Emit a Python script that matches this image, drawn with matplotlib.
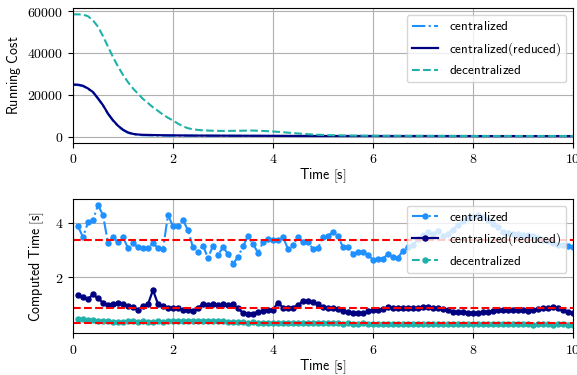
import matplotlib
matplotlib.use('Agg')
import matplotlib.pyplot as plt
from matplotlib.ticker import FuncFormatter

plt.rcParams['mathtext.fontset'] = 'cm'

# running cost (top panel), values in units of 1
t_cost = [0.0, 0.1, 0.2, 0.3, 0.4, 0.5, 0.6, 0.7, 0.8, 0.9, 1.0, 1.1, 1.2, 1.3, 1.4,
          1.5, 1.6, 1.7, 1.8, 1.9, 2.0, 2.1, 2.2, 2.3, 2.4, 2.5, 2.6, 2.8, 3.0, 3.3,
          3.6, 3.9, 4.2, 4.5, 4.8, 5.1, 5.5, 6.0, 7.0, 8.0, 9.0, 10.0]
cost_dec = [58400, 58400, 58300, 57500, 55500, 52500, 48000, 43000, 38000, 33500, 29500,
            26000, 23000, 20500, 18000, 16000, 14000, 12300, 10500, 9000, 7700, 6200,
            4900, 4000, 3500, 3200, 3000, 2800, 2700, 2800, 2900, 2600, 2100, 1500,
            1000, 700, 500, 400, 350, 300, 300, 300]
cost_red = [24900, 24800, 24300, 23000, 21300, 18300, 15000, 11000, 7800, 5200, 3300,
            2000, 1300, 1000, 850, 800, 750, 700, 650, 620, 600, 580, 560, 540, 520,
            500, 490, 470, 450, 420, 400, 380, 350, 330, 320, 300, 300, 300, 280, 260,
            250, 250]
cost_cen = [24700, 24600, 24100, 22800, 21100, 18100, 14800, 10800, 7600, 5000, 3100,
            1800, 1100, 800, 650, 600, 550, 500, 480, 460, 450, 440, 430, 420, 410,
            400, 390, 380, 370, 350, 340, 320, 300, 290, 280, 270, 260, 250, 240, 230,
            220, 220]

# computed time per step (bottom panel)
t_step = [round(0.1 * k, 1) for k in range(1, 101)]
ct_cen = [3.87, 3.47, 4.01, 4.10, 4.64, 4.28, 3.26, 3.47, 3.28, 3.47,
          3.07, 3.25, 3.10, 3.07, 3.07, 3.25, 3.07, 3.04, 4.28, 3.87,
          3.87, 4.10, 3.72, 3.10, 2.92, 3.16, 2.70, 3.16, 2.82, 3.10,
          2.86, 2.50, 2.74, 3.14, 3.50, 3.22, 2.90, 3.28, 3.41, 3.37,
          3.35, 3.47, 3.04, 3.19, 3.47, 3.28, 3.28, 3.04, 3.07, 3.47,
          3.53, 3.65, 3.50, 3.10, 3.10, 2.86, 2.92, 2.94, 2.82, 2.65,
          2.68, 2.68, 2.86, 2.74, 2.72, 2.98, 3.10, 3.19, 3.40, 3.55,
          3.65, 3.60, 3.68, 3.50, 3.60, 3.75, 3.93, 4.05, 4.17, 4.22,
          4.29, 4.20, 4.11, 3.95, 3.84, 3.67, 3.62, 3.60, 3.58, 3.55,
          3.56, 3.50, 3.45, 3.38, 3.32, 3.25, 3.20, 3.18, 3.13, 3.12]
ct_red = [1.35, 1.28, 1.19, 1.38, 1.23, 1.07, 0.98, 1.02, 1.07, 1.02,
          0.95, 0.92, 0.80, 0.95, 1.02, 1.53, 1.02, 0.95, 0.89, 0.86,
          0.86, 0.82, 0.82, 0.77, 0.86, 1.04, 0.98, 1.02, 0.98, 1.02,
          0.98, 1.02, 0.86, 0.70, 0.67, 0.67, 0.74, 0.77, 0.80, 0.82,
          1.07, 0.89, 0.86, 0.89, 0.98, 1.13, 1.13, 1.10, 1.02, 0.90,
          0.86, 0.86, 0.84, 0.78, 0.72, 0.70, 0.70, 0.70, 0.75, 0.79,
          0.81, 0.84, 0.90, 0.88, 0.86, 0.86, 0.86, 0.86, 0.88, 0.93,
          0.92, 0.89, 0.86, 0.84, 0.79, 0.74, 0.73, 0.73, 0.71, 0.68,
          0.69, 0.72, 0.73, 0.76, 0.79, 0.81, 0.82, 0.80, 0.82, 0.79,
          0.77, 0.80, 0.85, 0.86, 0.86, 0.90, 0.86, 0.79, 0.72, 0.70]
ct_dec = [0.47, 0.48, 0.44, 0.45, 0.41, 0.40, 0.41, 0.38, 0.37, 0.38,
          0.40, 0.39, 0.38, 0.39, 0.38, 0.37, 0.39, 0.38, 0.39, 0.40,
          0.39, 0.40, 0.41, 0.40, 0.41, 0.40, 0.40, 0.39, 0.40, 0.39,
          0.38, 0.36, 0.36, 0.35, 0.34, 0.35, 0.33, 0.34, 0.33, 0.32,
          0.33, 0.32, 0.32, 0.33, 0.32, 0.31, 0.32, 0.31, 0.32, 0.31,
          0.31, 0.32, 0.31, 0.30, 0.31, 0.30, 0.30, 0.31, 0.30, 0.29,
          0.30, 0.29, 0.29, 0.30, 0.29, 0.29, 0.30, 0.29, 0.29, 0.29,
          0.30, 0.29, 0.28, 0.29, 0.28, 0.29, 0.28, 0.28, 0.29, 0.28,
          0.28, 0.28, 0.29, 0.28, 0.28, 0.28, 0.28, 0.29, 0.28, 0.28,
          0.28, 0.27, 0.28, 0.28, 0.28, 0.27, 0.28, 0.28, 0.27, 0.27]
mean_cen = 3.35
mean_red = 0.88
mean_dec = 0.32

labels = ['centralized', 'centralized(reduced)', 'decentralized']
c_cen, c_red, c_dec = 'dodgerblue', 'navy', 'lightseagreen'


def sf(s):
    return r'$\mathsf{' + s.replace(' ', r'\ ') + '}$'


num = FuncFormatter(lambda v, p: '$%g$' % v)

fig = plt.figure(figsize=(5.77, 3.75), dpi=100)
ax1 = fig.add_axes([0.1265, 0.6195, 0.8666, 0.3584])
ax2 = fig.add_axes([0.1265, 0.1112, 0.8666, 0.3582])

ax1.plot(t_cost, cost_cen, '-.', color=c_cen, lw=1.5, label=sf(labels[0]))
ax1.plot(t_cost, cost_red, '-', color=c_red, lw=1.6, label=sf(labels[1]))
ax1.plot(t_cost, cost_dec, '--', color=c_dec, lw=1.5, label=sf(labels[2]))
ax1.set_xlim(0, 10)
ax1.set_ylim(-2900, 61300)
ax1.set_yticks([0, 20000, 40000, 60000])
ax1.set_xticks([0, 2, 4, 6, 8, 10])
ax1.set_ylabel(sf('Running Cost'), fontsize=10, labelpad=3)
ax1.set_xlabel(sf('Time [s]'), fontsize=10, labelpad=0)
ax1.grid(True)
ax1.legend(loc='upper right', fontsize=9.5)

ax2.plot(t_step, ct_cen, '-.', marker='o', ms=3.6, color=c_cen, lw=1.5, label=sf(labels[0]))
ax2.plot(t_step, ct_red, '-', marker='o', ms=3.6, color=c_red, lw=1.6, label=sf(labels[1]))
ax2.plot(t_step, ct_dec, '--', marker='o', ms=3.6, color=c_dec, lw=1.5, label=sf(labels[2]))
for m in [mean_cen, mean_red, mean_dec]:
    ax2.axhline(m, color='red', ls='--', lw=1.5)
ax2.set_xlim(0, 10)
ax2.set_ylim(-0.05, 4.87)
ax2.set_yticks([2, 4])
ax2.set_xticks([0, 2, 4, 6, 8, 10])
ax2.set_ylabel(sf('Computed Time [s]'), fontsize=10, labelpad=6)
ax2.set_xlabel(sf('Time [s]'), fontsize=10, labelpad=0)
ax2.grid(True)
ax2.legend(loc='upper right', fontsize=9.5)

for ax in (ax1, ax2):
    ax.xaxis.set_major_formatter(num)
    ax.yaxis.set_major_formatter(num)
    ax.tick_params(labelsize=10)

fig.savefig('out.png', dpi=100)
